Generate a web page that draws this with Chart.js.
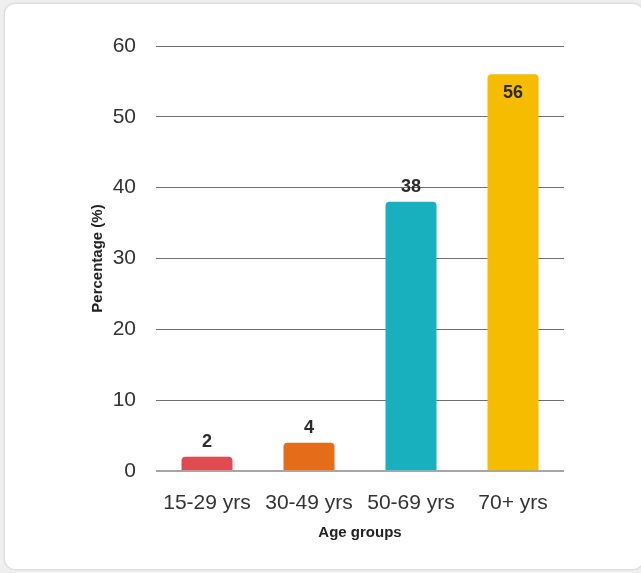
<!DOCTYPE html>
<html>
<head>
<meta charset="utf-8">
<script src="https://cdn.jsdelivr.net/npm/chart.js@4/dist/chart.umd.min.js"></script>
<style>
  html, body { margin: 0; padding: 0; background: #efefef; width: 641px; height: 573px; overflow: hidden; }
  .card { position: absolute; left: 4px; top: 3px; width: 640px; height: 567px; background: #fff;
          border: 1px solid #dcdcdc; border-radius: 11px; box-shadow: 0 0 2px rgba(0,0,0,0.08); box-sizing: border-box; }
  canvas { position: absolute; left: 0; top: 0; }
</style>
</head>
<body>
<div class="card"></div>
<canvas id="c" width="641" height="573"></canvas>
<script>
const categories = ["15-29 yrs", "30-49 yrs", "50-69 yrs", "70+ yrs"];
const values = [2, 4, 38, 56];
const barColors = ["#e04b50", "#e56d19", "#18afbf", "#f5bc00"];
const yTicks = [0, 10, 20, 30, 40, 50, 60];
const xTitle = "Age groups";
const yTitle = "Percentage (%)";

const valueLabels = {
  id: 'valueLabels',
  afterDatasetsDraw(chart) {
    const ctx = chart.ctx;
    const meta = chart.getDatasetMeta(0);
    const area = chart.chartArea;
    ctx.save();
    ctx.font = 'bold 18px "Liberation Sans", Arial, sans-serif';
    ctx.fillStyle = '#2b2b2b';
    ctx.textAlign = 'center';
    ctx.textBaseline = 'middle';
    meta.data.forEach((bar, i) => {
      let y = bar.y - 15;
      if (y - 10 < area.top + 20) y = bar.y + 19;
      ctx.fillText(String(values[i]), bar.x, y);
    });
    ctx.restore();
  }
};

new Chart(document.getElementById('c'), {
  type: 'bar',
  data: {
    labels: categories,
    datasets: [{
      data: values,
      backgroundColor: barColors,
      borderRadius: { topLeft: 4, topRight: 4, bottomLeft: 0, bottomRight: 0 },
      borderSkipped: 'bottom',
      barPercentage: 0.5,
      categoryPercentage: 1.0
    }]
  },
  options: {
    responsive: false,
    animation: false,
    devicePixelRatio: 1,
    layout: { padding: { left: 89, top: 46, right: 77, bottom: 31 } },
    plugins: { legend: { display: false }, tooltip: { enabled: false } },
    scales: {
      x: {
        grid: { display: false, drawTicks: false },
        border: { display: false },
        ticks: { color: '#333', padding: 20, font: { family: '"Liberation Sans", Arial, sans-serif', size: 21 }, maxRotation: 0 },
        title: { display: true, text: xTitle, color: '#222', padding: 0, font: { family: '"Liberation Sans", Arial, sans-serif', size: 15, weight: 'bold' } },
        afterFit(scale) { scale.height = 71; }
      },
      y: {
        min: 0, max: 60,
        afterBuildTicks(scale) { scale.ticks = yTicks.map(v => ({ value: v })); },
        grid: {
          color: (c) => c.tick && c.tick.value === 0 ? '#a6a6a6' : '#6f6f6f',
          lineWidth: (c) => c.tick && c.tick.value === 0 ? 2 : 1,
          drawTicks: false
        },
        border: { display: false },
        ticks: { color: '#333', padding: 20, font: { family: '"Liberation Sans", Arial, sans-serif', size: 21 } },
        title: { display: true, text: yTitle, color: '#222', padding: 0, font: { family: '"Liberation Sans", Arial, sans-serif', size: 15, weight: 'bold' } },
        afterFit(scale) { scale.width = 67; }
      }
    }
  },
  plugins: [valueLabels]
});
</script>
</body>
</html>
